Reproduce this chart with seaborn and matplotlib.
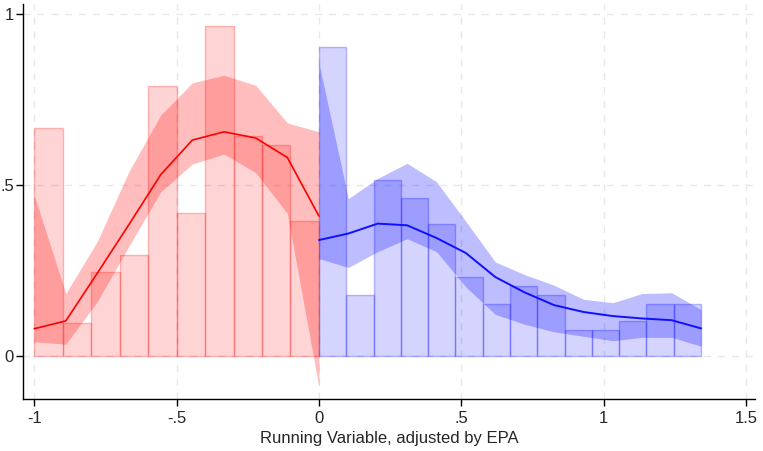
import numpy as np
import pandas as pd
import matplotlib
matplotlib.use("Agg")
import matplotlib.pyplot as plt
import seaborn as sns

# bin heights (left / right of cutoff)
red_heights = [0.667, 0.097, 0.245, 0.295, 0.789, 0.418, 0.963, 0.642, 0.617, 0.394]
blue_heights = [0.903, 0.178, 0.514, 0.462, 0.387, 0.231, 0.152, 0.204, 0.178,
                0.076, 0.076, 0.102, 0.152, 0.152]

# local polynomial fit with CI
red_fit = [0.080, 0.103, 0.243, 0.385, 0.530, 0.631, 0.655, 0.637, 0.580, 0.409]
red_hi = [0.470, 0.183, 0.336, 0.540, 0.704, 0.798, 0.820, 0.791, 0.681, 0.655]
red_lo = [0.042, 0.035, 0.160, 0.322, 0.480, 0.561, 0.590, 0.536, 0.417, -0.090]

blue_fit = [0.339, 0.358, 0.387, 0.382, 0.345, 0.301, 0.231, 0.186, 0.149,
            0.129, 0.117, 0.110, 0.105, 0.081]
blue_hi = [0.855, 0.460, 0.519, 0.563, 0.509, 0.393, 0.275, 0.238, 0.207,
           0.166, 0.156, 0.183, 0.185, 0.136]
blue_lo = [0.285, 0.259, 0.305, 0.343, 0.305, 0.202, 0.122, 0.093, 0.071,
           0.058, 0.045, 0.055, 0.055, 0.029]

x_ticks = [-1, -0.5, 0, 0.5, 1, 1.5]
x_tick_labels = ["-1", "-.5", "0", ".5", "1", "1.5"]
y_ticks = [0, 0.5, 1]
y_tick_labels = ["0", ".5", "1"]

x_min, x_max = -1.0, 1.342

red_edges = np.linspace(x_min, 0, len(red_heights) + 1)
blue_edges = np.linspace(0, x_max, len(blue_heights) + 1)
red_bins = pd.DataFrame({"x": (red_edges[:-1] + red_edges[1:]) / 2, "h": red_heights})
blue_bins = pd.DataFrame({"x": (blue_edges[:-1] + blue_edges[1:]) / 2, "h": blue_heights})

red_fit_df = pd.DataFrame({"x": np.linspace(x_min, 0, len(red_fit)), "y": red_fit,
                           "lo": red_lo, "hi": red_hi})
blue_fit_df = pd.DataFrame({"x": np.linspace(0, x_max, len(blue_fit)), "y": blue_fit,
                            "lo": blue_lo, "hi": blue_hi})

sns.set_style("white")
plt.rcParams["font.family"] = ["Liberation Sans", "DejaVu Sans"]

fig = plt.figure(figsize=(7.63, 4.51), dpi=100)
ax = fig.add_axes([0.030, 0.115, 0.9595, 0.876])

# grid
for xt in x_ticks:
    ax.axvline(xt, color="#e8e8e8", lw=1, ls=(0, (5, 5)), zorder=0)
for yt in y_ticks:
    ax.axhline(yt, color="#e8e8e8", lw=1, ls=(0, (5, 5)), zorder=0)

# confidence bands
ax.fill_between(red_fit_df["x"], red_fit_df["lo"], red_fit_df["hi"],
                color="red", alpha=0.26, lw=0, zorder=1)
ax.fill_between(blue_fit_df["x"], blue_fit_df["lo"], blue_fit_df["hi"],
                color="blue", alpha=0.26, lw=0, zorder=1)

# histogram bars
sns.histplot(data=red_bins, x="x", weights="h", bins=list(red_edges), ax=ax,
             facecolor=(1, 0, 0, 0.17), edgecolor=(1, 0, 0, 0.25), linewidth=1,
             zorder=2)
sns.histplot(data=blue_bins, x="x", weights="h", bins=list(blue_edges), ax=ax,
             facecolor=(0, 0, 1, 0.17), edgecolor=(0, 0, 1, 0.25), linewidth=1,
             zorder=2)

# fitted lines
sns.lineplot(data=red_fit_df, x="x", y="y", ax=ax, color="red", lw=1.2, zorder=3)
sns.lineplot(data=blue_fit_df, x="x", y="y", ax=ax, color="#1010ff", lw=1.4, zorder=3)

ax.set_xlim(-1.0397, 1.5314)
ax.set_ylim(-0.1255, 1.028)
ax.set_xticks(x_ticks)
ax.set_xticklabels(x_tick_labels)
ax.set_yticks(y_ticks)
ax.set_yticklabels(y_tick_labels)
ax.tick_params(direction="out", length=5, width=1, color="black", labelsize=12,
               left=True, bottom=True)
ax.tick_params(axis="y", pad=1.5)
ax.set_xlabel("Running Variable, adjusted by EPA", fontsize=12, labelpad=4)
ax.set_ylabel("")
for side in ["top", "right"]:
    ax.spines[side].set_visible(False)
for side in ["left", "bottom"]:
    ax.spines[side].set_color("black")
    ax.spines[side].set_linewidth(1)

fig.savefig("out.png", dpi=100)
